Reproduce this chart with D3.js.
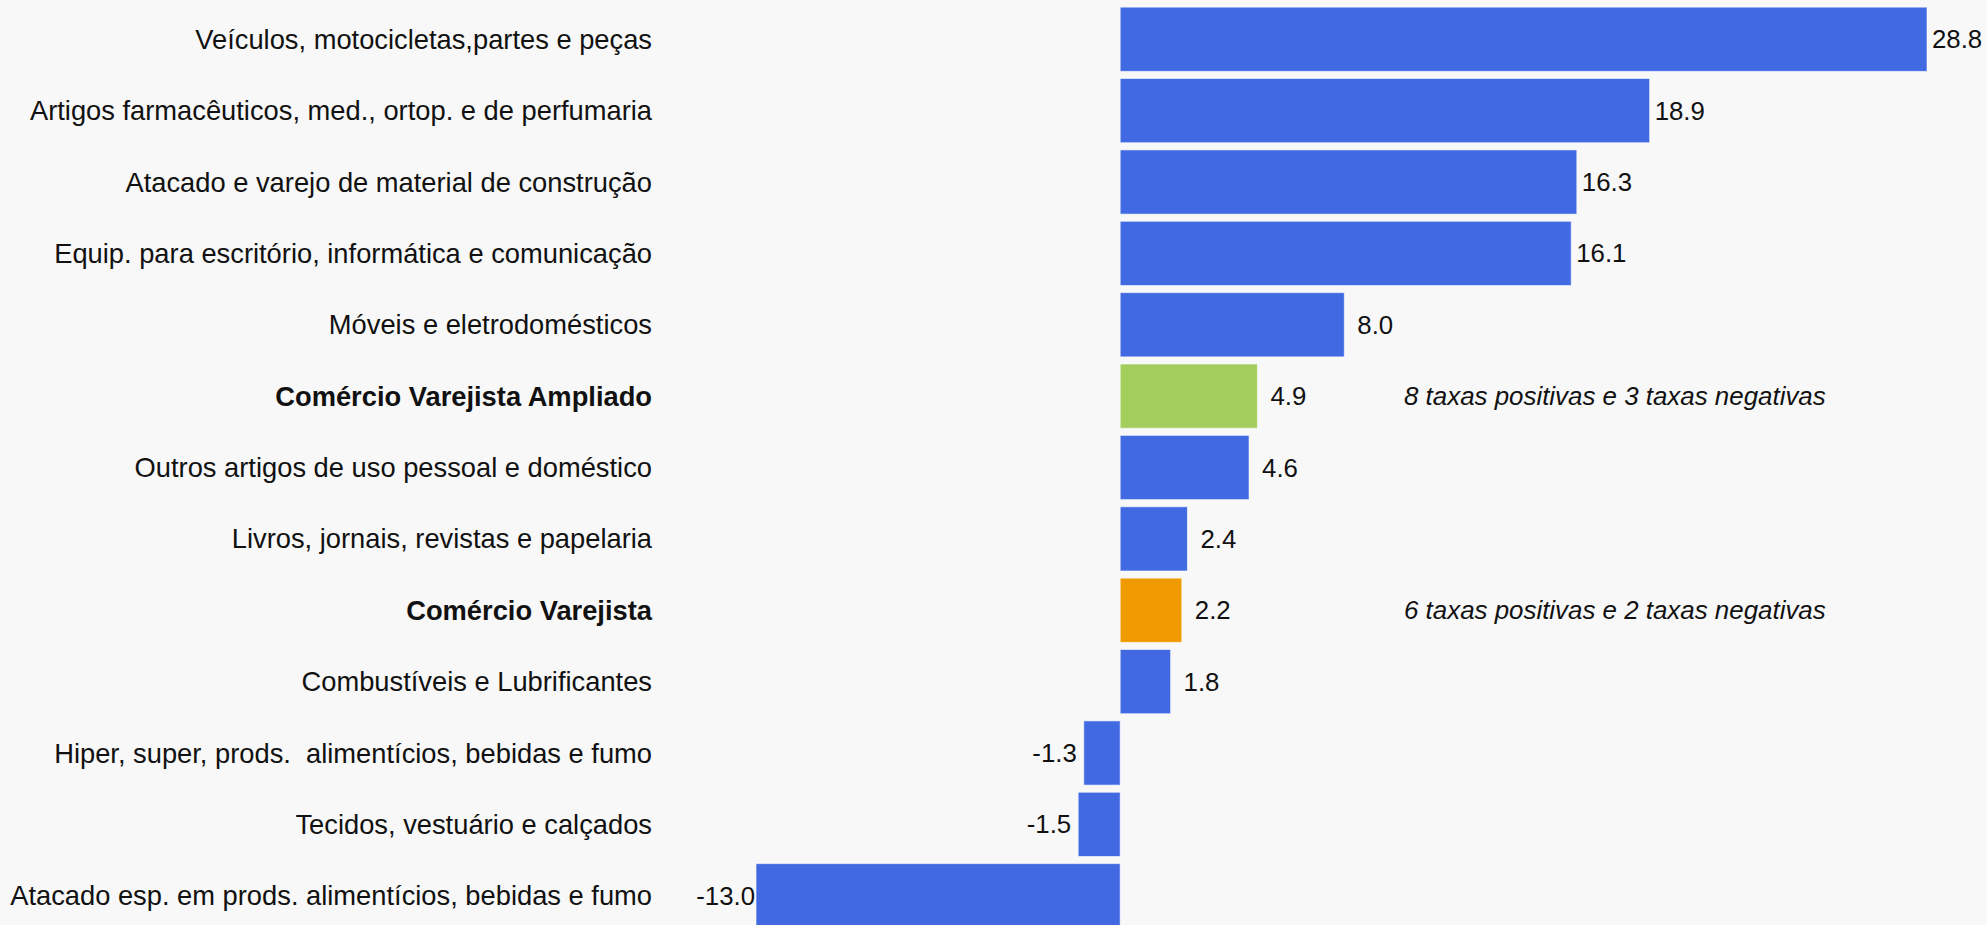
<!DOCTYPE html>
<html>
<head>
<meta charset="utf-8">
<script src="https://cdn.jsdelivr.net/npm/d3@7"></script>
<style>
  html, body { margin: 0; padding: 0; background: #f8f8f8; overflow: hidden; }
  text { font-family: "Liberation Sans", Arial, sans-serif; fill: #111; }
</style>
</head>
<body>
<svg width="1987" height="925"></svg>
<script>
// categories, top to bottom
const categories = [
    "Veículos, motocicletas,partes e peças",
    "Artigos farmacêuticos, med., ortop. e de perfumaria",
    "Atacado e varejo de material de construção",
    "Equip. para escritório, informática e comunicação",
    "Móveis e eletrodomésticos",
    "Comércio Varejista Ampliado",
    "Outros artigos de uso pessoal e doméstico",
    "Livros, jornais, revistas e papelaria",
    "Comércio Varejista",
    "Combustíveis e Lubrificantes",
    "Hiper, super, prods.  alimentícios, bebidas e fumo",
    "Tecidos, vestuário e calçados",
    "Atacado esp. em prods. alimentícios, bebidas e fumo"
];
const values = [28.8, 18.9, 16.3, 16.1, 8.0, 4.9, 4.6, 2.4, 2.2, 1.8, -1.3, -1.5, -13.0];

// which rows are aggregates (bold + own colour)
const highlight = {
    "Comércio Varejista Ampliado": "#a3cd5c",
    "Comércio Varejista": "#ef9a00"
};
const notes = [
    {cat: "Comércio Varejista Ampliado", text: "8 taxas positivas e 3 taxas negativas"},
    {cat: "Comércio Varejista", text: "6 taxas positivas e 2 taxas negativas"}
];

const svg = d3.select("svg");
var width = +svg.attr("width");
var height = +svg.attr("height");

const data = categories.map((c, i) => ({cat: c, value: values[i]}));

var x = d3.scaleLinear()
    .domain(d3.extent(values))
    .range([756, 1927]);

var y = d3.scaleBand()
    .domain(categories)
    .range([0, 935])
    .padding(0.1);

var bars = svg.append('g')
    .attr('class', 'bars')
    .selectAll('rect')
    .data(data)
    .enter()
    .append('rect')
    .attr('x', d => x(Math.min(0, d.value)))
    .attr('y', d => y(d.cat))
    .attr('width', d => Math.abs(x(d.value) - x(0)))
    .attr('height', y.bandwidth())
    .attr('fill', d => highlight[d.cat] || '#4169e1')
    .attr('stroke', '#ffffff')
    .attr('stroke-opacity', 0.6)
    .attr('stroke-width', 1);

// category labels
svg.append('g')
    .attr('class', 'labels')
    .selectAll('text')
    .data(data)
    .enter().append('text')
    .attr('x', 652)
    .attr('y', d => y(d.cat) + y.bandwidth() / 2)
    .attr('dy', '0.35em')
    .attr('text-anchor', 'end')
    .attr('font-size', 27.3)
    .attr('font-weight', d => highlight[d.cat] ? 'bold' : 'normal')
    .style('white-space', 'pre')
    .text(d => d.cat);

// value labels
svg.append('g')
    .attr('class', 'values')
    .selectAll('text')
    .data(data)
    .enter().append('text')
    .attr('x', d => {
        let gap = Math.abs(d.value) > 10 ? 5 : 13;
        return d.value >= 0 ? x(d.value) + gap : x(d.value) - (Math.abs(d.value) > 10 ? 1 : 7);
    })
    .attr('y', d => y(d.cat) + y.bandwidth() / 2)
    .attr('dy', '0.35em')
    .attr('text-anchor', d => d.value >= 0 ? 'start' : 'end')
    .attr('font-size', 25.8)
    .text(d => d.value.toFixed(1));

// notes beside the aggregate rows
svg.append('g')
    .attr('class', 'notes')
    .selectAll('text')
    .data(notes)
    .enter().append('text')
    .attr('x', 1404)
    .attr('y', d => y(d.cat) + y.bandwidth() / 2)
    .attr('dy', '0.35em')
    .attr('font-size', 25.9)
    .attr('font-style', 'italic')
    .text(d => d.text);
</script>
</body>
</html>
